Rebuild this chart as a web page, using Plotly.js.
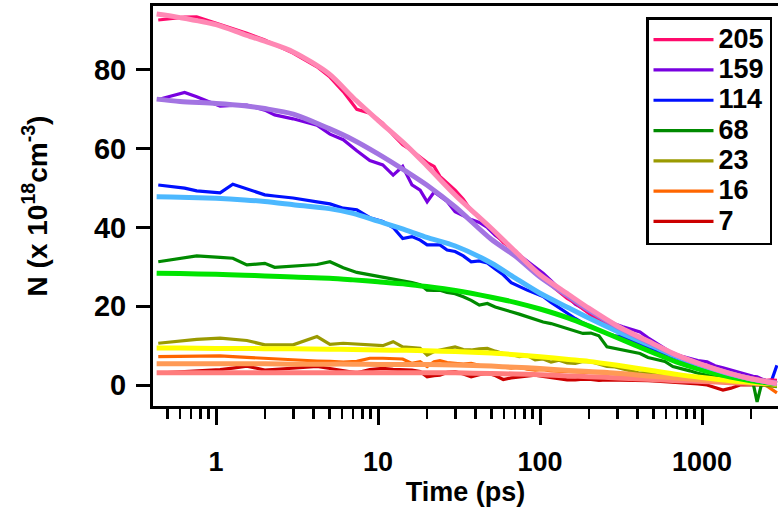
<!DOCTYPE html>
<html>
<head>
<meta charset="utf-8">
<script src="https://cdn.plot.ly/plotly-3.0.1.min.js"></script>
<style>
html,body{margin:0;padding:0;background:#fff;overflow:hidden;}
#chart{width:778px;height:510px;}
</style>
</head>
<body>
<div id="chart"></div>
<script>
// ---- DATA ----
const seriesNames = ["205", "159", "114", "68", "23", "16", "7"];

const dataTimes = [0.44, 0.64, 0.76, 1.06, 1.27, 1.55, 2.0, 2.3, 2.99, 4.2, 5.05, 6.1, 7.4, 8.9, 10.7, 12.4, 14.2, 16.2, 18.2, 20.1, 22.2, 24.1, 26.7, 29.9, 33.6, 37.6, 42.2, 47.3, 52.9, 59.3, 66.4, 74.4, 83.3, 93.3, 104.5, 117, 131, 147, 165, 184, 206, 231, 259, 290, 325, 364, 414, 464, 527, 590, 661, 751, 841, 942, 1074, 1203, 1347, 1509, 1717, 1923, 2067, 2187, 2333, 2500, 2670, 2900];

const data205 = [92.7, 93.4, 93.5, 91.6, 90.6, 89.3, 87.6, 86.5, 84.3, 80.8, 78.2, 74.5, 70.0, 69.0, 66.5, 63.5, 61.0, 59.5, 58.0, 56.5, 55.5, 53.0, 51.3, 49.5, 47.2, 44.3, 42.5, 40.8, 38.5, 36.2, 34.8, 32.5, 30.5, 28.6, 27.0, 25.3, 23.6, 22.0, 20.8, 19.2, 17.8, 16.6, 15.6, 14.8, 13.5, 12.4, 11.6, 10.6, 9.7, 8.7, 7.8, 7.0, 6.2, 5.4, 5.0, 4.2, 3.5, 3.0, 2.4, 2.0, 1.8, 1.6, 1.4, 1.2, 1.3, 1.2];
const data159 = [72.5, 74.3, 73.2, 70.8, 71.0, 71.1, 69.8, 68.6, 67.6, 66.0, 63.7, 62.3, 59.5, 57.0, 55.9, 53.3, 55.5, 50.8, 49.5, 46.5, 49.0, 48.0, 46.6, 44.0, 43.0, 42.0, 41.3, 40.0, 38.0, 36.5, 35.0, 33.0, 31.5, 30.0, 28.4, 26.5, 24.6, 22.7, 20.5, 19.5, 18.4, 17.5, 16.5, 15.5, 14.8, 14.2, 13.5, 12.0, 10.6, 9.3, 8.0, 7.3, 6.7, 6.2, 5.9, 4.9, 4.4, 3.8, 3.3, 2.5, 2.2, 2.1, 1.5, 1.0, 0.6, 0.4];
const data114 = [50.8, 50.0, 49.3, 48.8, 51.0, 49.8, 48.3, 48.0, 47.5, 46.5, 46.0, 44.9, 44.5, 42.5, 41.5, 40.0, 37.2, 37.7, 36.8, 35.6, 35.6, 35.6, 34.3, 33.9, 32.8, 31.3, 31.5, 31.0, 29.5, 28.0, 26.0, 25.0, 24.1, 23.3, 22.5, 21.0, 19.6, 18.2, 16.9, 15.8, 14.8, 13.9, 13.1, 12.5, 12.3, 11.4, 10.6, 9.5, 8.7, 8.0, 7.2, 6.4, 5.6, 5.2, 4.7, 4.0, 3.9, 3.3, 2.6, 2.2, 1.8, 1.5, 1.3, 1.0, 0.8, 5.0];
const data68 = [31.3, 32.3, 32.8, 32.4, 32.2, 30.5, 30.9, 29.9, 30.2, 30.6, 31.3, 29.8, 28.6, 28.0, 27.5, 27.0, 26.5, 26.0, 25.5, 24.1, 24.0, 24.1, 23.5, 23.2, 22.4, 21.5, 20.3, 20.7, 19.8, 19.3, 18.6, 18.0, 17.3, 16.6, 16.0, 15.6, 15.0, 14.4, 13.8, 13.1, 13.2, 12.5, 9.7, 9.3, 8.9, 8.3, 8.0, 7.0, 6.4, 6.0, 4.7, 4.2, 3.6, 3.0, 2.5, 2.0, 1.6, 1.2, 0.9, 0.7, 0.5, -4.3, 0.3, 0.1, 0.0, -0.2];
const data23 = [10.6, 11.3, 11.6, 11.9, 11.6, 11.3, 10.2, 10.2, 10.2, 12.3, 10.3, 10.6, 10.4, 10.2, 10.0, 11.0, 9.7, 9.5, 9.3, 7.6, 8.5, 8.9, 9.3, 9.7, 9.0, 8.9, 9.2, 9.3, 8.6, 8.0, 7.8, 7.2, 7.5, 6.4, 6.6, 5.8, 6.3, 5.6, 5.5, 6.0, 5.9, 5.2, 4.7, 4.6, 4.0, 3.6, 3.0, 3.2, 2.7, 2.5, 2.2, 1.9, 1.6, 1.4, 1.3, 1.0, 0.8, 0.6, 0.5, 0.3, 0.2, 0.1, 0.0, -0.2, -0.3, -0.4];
const data16 = [7.2, 7.3, 7.4, 7.4, 7.2, 7.0, 6.8, 6.6, 6.3, 6.1, 6.0, 5.8, 6.0, 6.8, 6.8, 6.8, 6.6, 5.5, 5.9, 4.7, 5.9, 6.2, 5.7, 5.5, 5.3, 5.5, 5.0, 4.8, 4.9, 4.5, 4.3, 4.6, 4.0, 3.8, 3.9, 3.6, 3.5, 3.6, 3.3, 3.2, 3.3, 3.0, 3.0, 2.8, 2.7, 2.6, 2.5, 2.4, 2.3, 2.1, 2.1, 1.9, 1.7, 1.6, 1.4, 1.3, 1.1, 1.0, 0.8, 0.6, 0.5, 0.4, 0.2, -0.2, -1.0, -2.0];
const data7 = [3.0, 3.4, 3.6, 3.9, 4.3, 4.8, 3.8, 4.0, 4.3, 4.7, 4.2, 3.6, 3.1, 3.9, 4.2, 4.0, 3.9, 3.8, 3.4, 2.1, 2.4, 2.5, 3.2, 3.4, 2.8, 2.1, 2.6, 3.0, 2.4, 1.4, 1.8, 2.1, 2.3, 2.5, 2.2, 1.9, 1.6, 1.3, 1.3, 1.5, 1.4, 1.2, 1.3, 1.3, 1.2, 1.3, 1.3, 1.1, 1.0, 0.9, 0.8, 0.6, 0.5, 0.3, 0.0, -0.6, -1.3, -0.8, 0.0, 0.1, 0.1, 0.0, 0.0, 0.0, 0.0, 0.0];

const fitTimes = [0.43, 0.6, 1, 1.5, 2, 3, 5, 7, 10, 15, 20, 30, 50, 70, 100, 150, 200, 300, 500, 700, 1000, 1500, 2000, 2900];
const fit205 = [94.2, 93.3, 91.5, 89.0, 87.3, 84.6, 79.0, 73.0, 67.2, 60.8, 55.7, 48.2, 39.8, 34.0, 28.0, 23.0, 19.5, 15.0, 10.5, 7.6, 5.2, 2.9, 1.6, 0.4];
const fit159 = [72.6, 72.0, 71.5, 70.9, 70.2, 68.8, 65.1, 62.3, 58.7, 54.2, 50.8, 45.2, 37.0, 32.8, 27.4, 22.5, 19.0, 14.8, 10.3, 7.5, 5.1, 2.9, 1.6, 0.4];
const fit114 = [47.8, 47.7, 47.4, 47.0, 46.6, 45.8, 44.8, 43.6, 41.6, 39.3, 37.5, 35.3, 31.0, 27.2, 23.3, 19.6, 17.0, 13.6, 9.8, 7.2, 5.0, 2.8, 1.6, 0.4];
const fit68 = [28.4, 28.3, 28.1, 27.9, 27.7, 27.4, 27.1, 26.7, 26.2, 25.6, 25.0, 24.0, 22.3, 21.0, 19.3, 17.0, 15.0, 12.0, 8.2, 5.8, 3.8, 2.0, 1.1, 0.3];
const fit23 = [9.4, 9.4, 9.3, 9.3, 9.2, 9.2, 9.1, 9.0, 8.9, 8.8, 8.7, 8.5, 8.1, 7.7, 7.2, 6.5, 6.0, 5.0, 3.6, 2.7, 1.9, 1.1, 0.7, 0.2];
const fit16 = [5.4, 5.4, 5.4, 5.4, 5.4, 5.3, 5.3, 5.3, 5.2, 5.2, 5.2, 5.1, 4.8, 4.5, 4.2, 3.7, 3.4, 3.0, 2.2, 1.8, 1.3, 0.8, 0.6, 0.3];
const fit7 = [3.1, 3.1, 3.1, 3.1, 3.1, 3.1, 3.1, 3.1, 3.1, 3.1, 3.1, 3.1, 2.9, 2.8, 2.6, 2.3, 2.1, 1.8, 1.4, 1.1, 0.9, 0.6, 0.5, 0.3];

const xTickVals = [1, 10, 100, 1000];
const yTickVals = [0, 20, 40, 60, 80];

// ---- STYLE ----
const dataColors = ["#ff0a6c", "#7800e0", "#0010ff", "#008a00", "#9a9a00", "#ff6600", "#cc0000"];
const fitColors  = ["#ff88b4", "#a374e2", "#4cb8ff", "#00e400", "#ffff00", "#ff9a55", "#ff7c7c"];
const dataSets = [data205, data159, data114, data68, data23, data16, data7];
const fitSets  = [fit205, fit159, fit114, fit68, fit23, fit16, fit7];

const traces = [];
for (let i = seriesNames.length - 1; i >= 0; i--) {
  traces.push({
    x: dataTimes, y: dataSets[i], type: "scatter", mode: "lines",
    name: '<span style="font-size:27px">' + seriesNames[i] + '</span>', legendrank: i + 1,
    line: {color: dataColors[i], width: 3.2}
  });
}
for (let i = seriesNames.length - 1; i >= 0; i--) {
  traces.push({
    x: fitTimes, y: fitSets[i], type: "scatter", mode: "lines",
    showlegend: false, hoverinfo: "skip",
    line: {color: fitColors[i], width: 5, shape: "spline", smoothing: 0.8}
  });
}

const fontFam = "Liberation Sans, Arial, Helvetica, sans-serif";
const layout = {
  width: 778, height: 510,
  margin: {l: 153, r: 0, t: 6, b: 104},
  paper_bgcolor: "#fff", plot_bgcolor: "#fff",
  showlegend: true,
  font: {family: fontFam, color: "#000", size: 26, weight: 700},
  xaxis: {
    type: "log", range: [-0.389, 3.469],
    tickmode: "array", tickvals: xTickVals, ticktext: xTickVals.map(String),
    ticks: "outside", ticklen: 16, tickwidth: 3, tickcolor: "#000",
    showline: true, linewidth: 3, linecolor: "#000", mirror: true,
    showgrid: false, zeroline: false,
    tickfont: {family: fontFam, size: 27, weight: 700, color: "#000"},
    ticklabelstandoff: 14,
    minor: {ticks: "outside", ticklen: 10, tickwidth: 2.5, tickcolor: "#000", dtick: "D1", showgrid: false},
    title: {text: "Time (ps)", font: {family: fontFam, size: 27, weight: 700, color: "#000"}, standoff: 4}
  },
  yaxis: {
    range: [-5.33, 96.25],
    tickmode: "array", tickvals: yTickVals,
    ticks: "outside", ticklen: 14, tickwidth: 3, tickcolor: "#000",
    showline: true, linewidth: 3, linecolor: "#000", mirror: false,
    showgrid: false, zeroline: false,
    tickfont: {family: fontFam, size: 29, weight: 700, color: "#000"},
    ticklabelstandoff: 4,
    title: {text: "N (x 10<sup>18</sup>cm<sup>-3</sup>)", font: {family: fontFam, size: 28, weight: 700, color: "#000"}, standoff: 39}
  },
  legend: {
    x: 0.9904, xanchor: "right", y: 0.9725, yanchor: "top",
    bgcolor: "#fff", bordercolor: "#000", borderwidth: 2.5,
    font: {family: fontFam, size: 21, weight: 700, color: "#000"},
    itemwidth: 60, tracegroupgap: 0
  }
};

Plotly.newPlot("chart", traces, layout, {staticPlot: true, displayModeBar: false});
</script>
</body>
</html>
